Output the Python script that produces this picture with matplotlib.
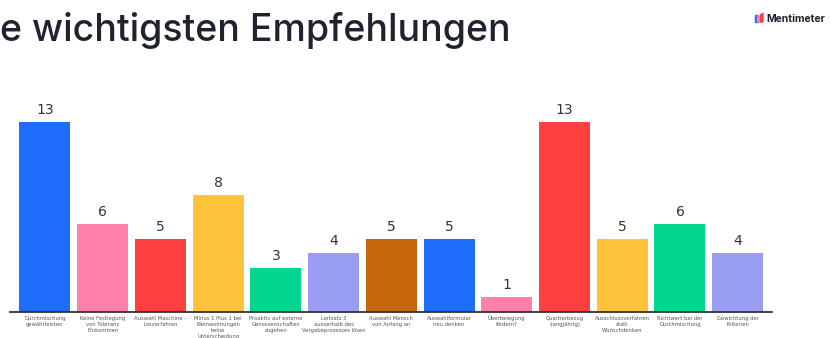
import matplotlib
matplotlib.use("Agg")
from matplotlib import pyplot as plt
from matplotlib.patches import Polygon

# data
labels = [
    "Durchmischung\ngewährleisten",
    "Keine Festlegung\nvon Toleranz\nEinkommen",
    "Auswahl Maschine -\nLosverfahren",
    "Minus 1 Plus 1 bei\nKleinwohnungen\nkeine\nUnterscheidung",
    "Proaktiv auf externe\nGenossenschaften\nzugehen",
    "Leitsatz 3\nausserhalb des\nVergabeprozesses lösen",
    "Auswahl Mensch\nvon Anfang an",
    "Auswahlformular\nneu denken",
    "Überbelegung\nfördern?",
    "Quartierbezug\n(langjährig)",
    "Ausschlussverfahren\nstatt\nWunschdenken",
    "Richtwert bei der\nDurchmischung",
    "Gewichtung der\nKriterien",
]
votes = [13, 6, 5, 8, 3, 4, 5, 5, 1, 13, 5, 6, 4]
colors = ["#1e6cfa", "#ff80ab", "#ff403f", "#ffc23a", "#00d68f", "#9a9ef2",
          "#c8660c", "#1e6cfa", "#ff80ab", "#ff403f", "#ffc23a", "#00d68f", "#9a9ef2"]

W, H = 831, 338
fig = plt.figure(figsize=(W / 100, H / 100), dpi=100)
fig.patch.set_facecolor("white")

# axes placed in pixel terms
left, right, bottom, top = 10, 772, 311.5, 100
ax = fig.add_axes([left / W, (H - bottom) / H, (right - left) / W, (bottom - top) / H])

x = list(range(len(votes)))
ax.bar(x, votes, width=0.883, color=colors)
for xi, v in zip(x, votes):
    ax.text(xi, v + 0.35, str(v), ha="center", va="bottom", fontsize=10, color="#333333")

ax.set_xlim(-0.606, 12.594)
ax.set_ylim(0, 14.54)
for s in ["top", "right", "left"]:
    ax.spines[s].set_visible(False)
ax.spines["bottom"].set_color("#333333")
ax.spines["bottom"].set_linewidth(1.3)
ax.set_yticks([])
ax.set_xticks(x)
ax.set_xticklabels(labels, fontsize=3.8, color="#555555", linespacing=1.25)
ax.tick_params(axis="x", length=0, pad=3)

# title, cut off at the left edge like the slide
fig.text(0.0, 1 - 41 / H, "e wichtigsten Empfehlungen", fontsize=27, family="Inter",
         fontweight="medium", color="#1f2330", ha="left", va="baseline")

# Mentimeter logo
icon = [
    Polygon([(755 / W, 1 - 22 / H), (757.5 / W, 1 - 22 / H), (757.5 / W, 1 - 15 / H), (755 / W, 1 - 15 / H)],
            closed=True, color="#1e6cfa", transform=fig.transFigure),
    Polygon([(757.5 / W, 1 - 22 / H), (760.5 / W, 1 - 22 / H), (760.5 / W, 1 - 17 / H), (757.5 / W, 1 - 15 / H)],
            closed=True, color="#ff80ab", transform=fig.transFigure),
    Polygon([(760.5 / W, 1 - 22 / H), (763 / W, 1 - 22 / H), (763 / W, 1 - 13 / H), (760.5 / W, 1 - 15 / H)],
            closed=True, color="#ff403f", transform=fig.transFigure),
]
for p in icon:
    fig.add_artist(p)
fig.text(766 / W, 1 - 22 / H, "Mentimeter", fontsize=7.5, fontweight="bold", family="Inter",
         color="#1f2330", ha="left", va="baseline")

plt.savefig("out.png", dpi=100)
